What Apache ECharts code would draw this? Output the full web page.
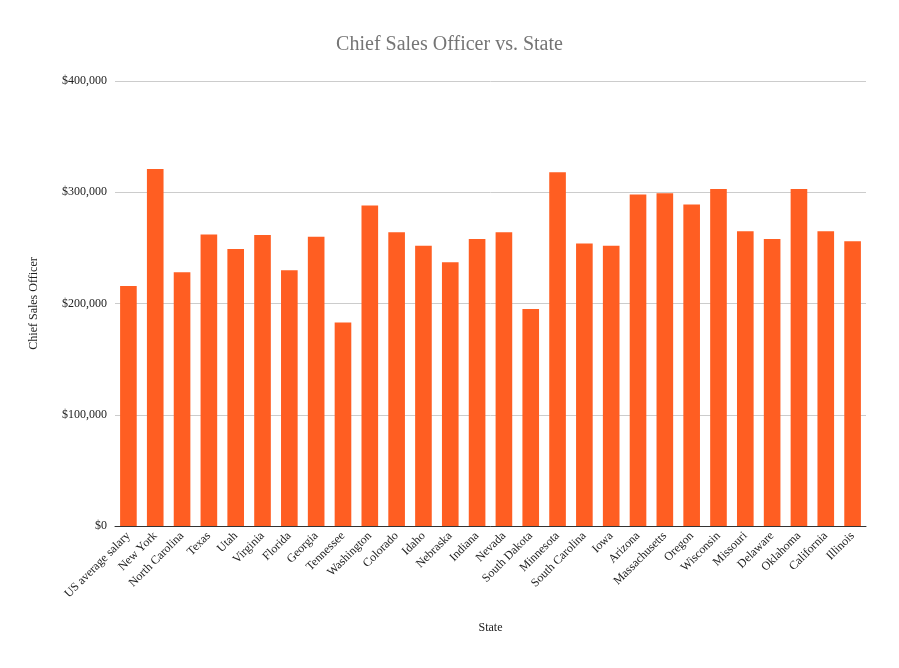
<!DOCTYPE html>
<html><head><meta charset="utf-8">
<script src="https://cdn.jsdelivr.net/npm/echarts@6/dist/echarts.min.js"></script>
<style>html,body{margin:0;padding:0;background:#fff}#c{width:899px;height:668px}</style>
</head><body><div id="c"></div>
<script>
const categories = ["US average salary","New York","North Carolina","Texas","Utah","Virginia","Florida","Georgia","Tennessee","Washington","Colorado","Idaho","Nebraska","Indiana","Nevada","South Dakota","Minnesota","South Carolina","Iowa","Arizona","Massachusetts","Oregon","Wisconsin","Missouri","Delaware","Oklahoma","California","Illinois"];
const values = [215700,321000,228000,262000,249000,261500,230000,260000,183000,288000,264000,252000,237000,258000,264000,195000,318000,254000,252000,298000,299000,289000,303000,265000,258000,303000,265000,256000];
const F = "'Liberation Serif','Times New Roman',serif";
const chart = echarts.init(document.getElementById('c'));
chart.setOption({
  textStyle:{fontFamily:F},
  title:{text:'Chief Sales Officer vs. State',left:'center',top:30,textStyle:{fontFamily:F,fontWeight:'normal',fontSize:20,color:'#757575'}},
  grid:{left:115,right:33,top:81,bottom:142},
  xAxis:{type:'category',data:categories,name:'State',nameLocation:'middle',nameGap:96,
    nameTextStyle:{fontFamily:F,fontSize:12,color:'#222'},
    axisTick:{show:false},axisLine:{lineStyle:{color:'#333'}},
    axisLabel:{rotate:45,interval:0,fontFamily:F,fontSize:12,color:'#222'}},
  yAxis:{type:'value',min:0,max:400000,interval:100000,name:'Chief Sales Officer',nameLocation:'middle',nameGap:75,
    nameTextStyle:{fontFamily:F,fontSize:12,color:'#222'},
    axisLine:{show:false},axisTick:{show:false},
    splitLine:{lineStyle:{color:'#ccc'}},
    axisLabel:{fontFamily:F,fontSize:12,color:'#222',formatter:v=>'$'+v.toLocaleString('en-US')}},
  series:[{type:'bar',data:values,barWidth:'62%',itemStyle:{color:'#ff5e22'}}],
  animation:false
});
</script></body></html>
